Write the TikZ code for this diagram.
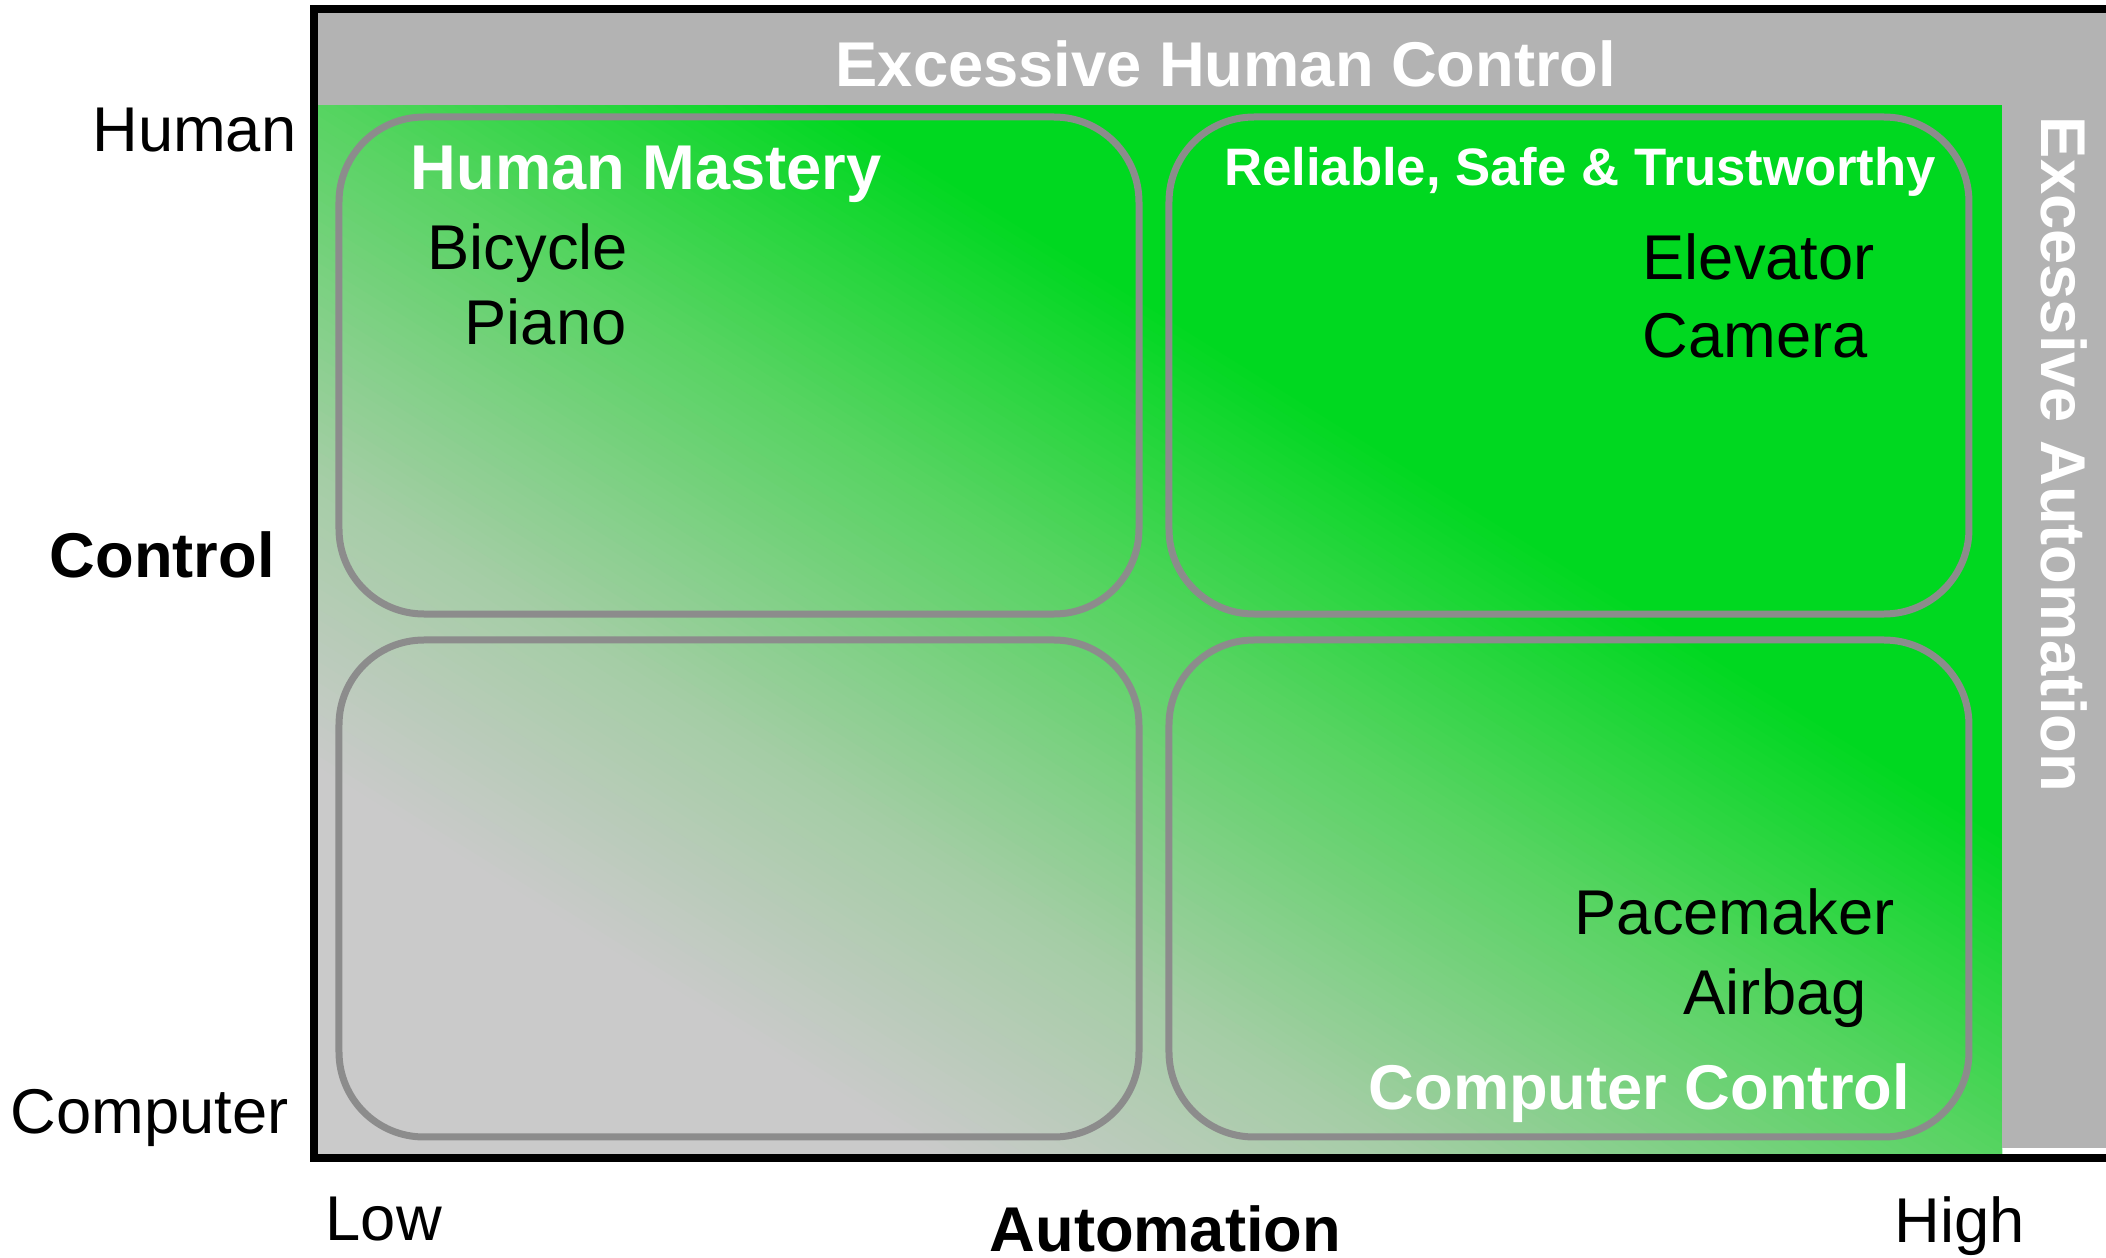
\documentclass[tikz,border=0pt]{standalone}
\usepackage{fontspec}
\setmainfont{Liberation Sans}
\usetikzlibrary{positioning}
\definecolor{ggray}{RGB}{202,202,202}
\definecolor{gmidA}{RGB}{165,205,166}
\definecolor{gmidB}{RGB}{85,212,96}
\definecolor{ggreen}{RGB}{0,216,32}
\definecolor{barg}{RGB}{179,179,179}
\definecolor{quadg}{RGB}{140,140,140}
\begin{document}
\begin{tikzpicture}[
    lab/.style={inner sep=0pt, font=\fontsize{18}{21}\selectfont},
    labb/.style={inner sep=0pt, font=\fontsize{18}{21}\selectfont\bfseries},
    hdr/.style={labb, text=white},
    quad/.style={draw=quadg, line width=0.07cm, rounded corners=0.85cm,
      minimum width=8cm, minimum height=4.97cm, inner sep=0pt, outer sep=0pt}
  ]
  \useasboundingbox (0,0) rectangle (21.06,12.58);
  % gray to green, in stripes along the anti-diagonal
  \begin{scope}[shift={(3.18,1.04)}, x=16.84cm, y=10.49cm]
    \clip (0,0) rectangle (1,1);
    \fill[ggray] (0,0) rectangle (1,1);
    \fill[ggreen] (-0.7,2) -- (2.3,-1) -- (3,-1) -- (3,2) -- cycle;
    \foreach \ca/\cb/\ta/\tb in {ggray/gmidA/36/64, gmidA/gmidB/64/100, gmidB/ggreen/100/130}
      \foreach \i in {\ta,...,\tb} {
        \pgfmathsetmacro\p{100*(\i-\ta)/(\tb-\ta)}
        \fill[\cb!\p!\ca] (\i/100-2,2) -- (\i/100+1,-1) -- (\i/100+1.015,-1) -- (\i/100-1.985,2) -- cycle;
      }
  \end{scope}
  \fill[barg] (3.18,11.53) rectangle (21.3,12.45);
  \fill[barg] (20.02,1.10) rectangle (21.3,11.53);
  \draw[line width=0.08cm] (3.14,1.00) rectangle (21.4,12.49);
  \matrix (quads) at (11.54,6.31) [row sep=0.19cm, column sep=0.23cm, nodes={quad}]
  {
    \node (mastery) {}; & \node (trusty) {}; \\
    \node (lowlow)  {}; & \node (compctl) {}; \\
  };
  % bar titles
  \node[hdr, anchor=base] (ehc) at (12.26,11.715) {Excessive Human Control};
  \node[hdr, rotate=-90] (eauto) at (20.64,8.035) {Excessive Automation};
  % quadrant texts
  \node[hdr, anchor=base west] (hm) at (4.10,10.68) {Human Mastery};
  \node[lab, anchor=base west] (bicycle) at (4.27,9.88) {Bicycle};
  \node[lab, below right=0.75cm and 0.37cm of bicycle.base west, anchor=base west] (piano) {Piano};
  \node[hdr, anchor=base, font=\fontsize{15}{18}\selectfont\bfseries] (rst) at (15.80,10.72) {Reliable, Safe \& Trustworthy};
  \node[lab, anchor=base west] (elevator) at (16.42,9.78) {Elevator};
  \node[lab, below=0.78cm of elevator.base west, anchor=base west] (camera) {Camera};
  \node[lab, anchor=base west] (pacemaker) at (15.74,3.23) {Pacemaker};
  \node[lab, below right=0.80cm and 1.09cm of pacemaker.base west, anchor=base west] (airbag) {Airbag};
  \node[hdr, anchor=base west] (cc) at (13.68,1.485) {Computer Control};
  % axes
  \node[lab, anchor=base east] (yhi) at (2.97,11.06) {Human};
  \node[labb, anchor=base west] (yname) at (0.49,6.80) {Control};
  \node[lab, anchor=base west] (ylo) at (0.10,1.24) {Computer};
  \node[lab, anchor=base west] (xlo) at (3.25,0.17) {Low};
  \node[labb, anchor=base west] (xname) at (9.89,0.06) {Automation};
  \node[lab, anchor=base west] (xhi) at (18.94,0.15) {High};
\end{tikzpicture}
\end{document}
